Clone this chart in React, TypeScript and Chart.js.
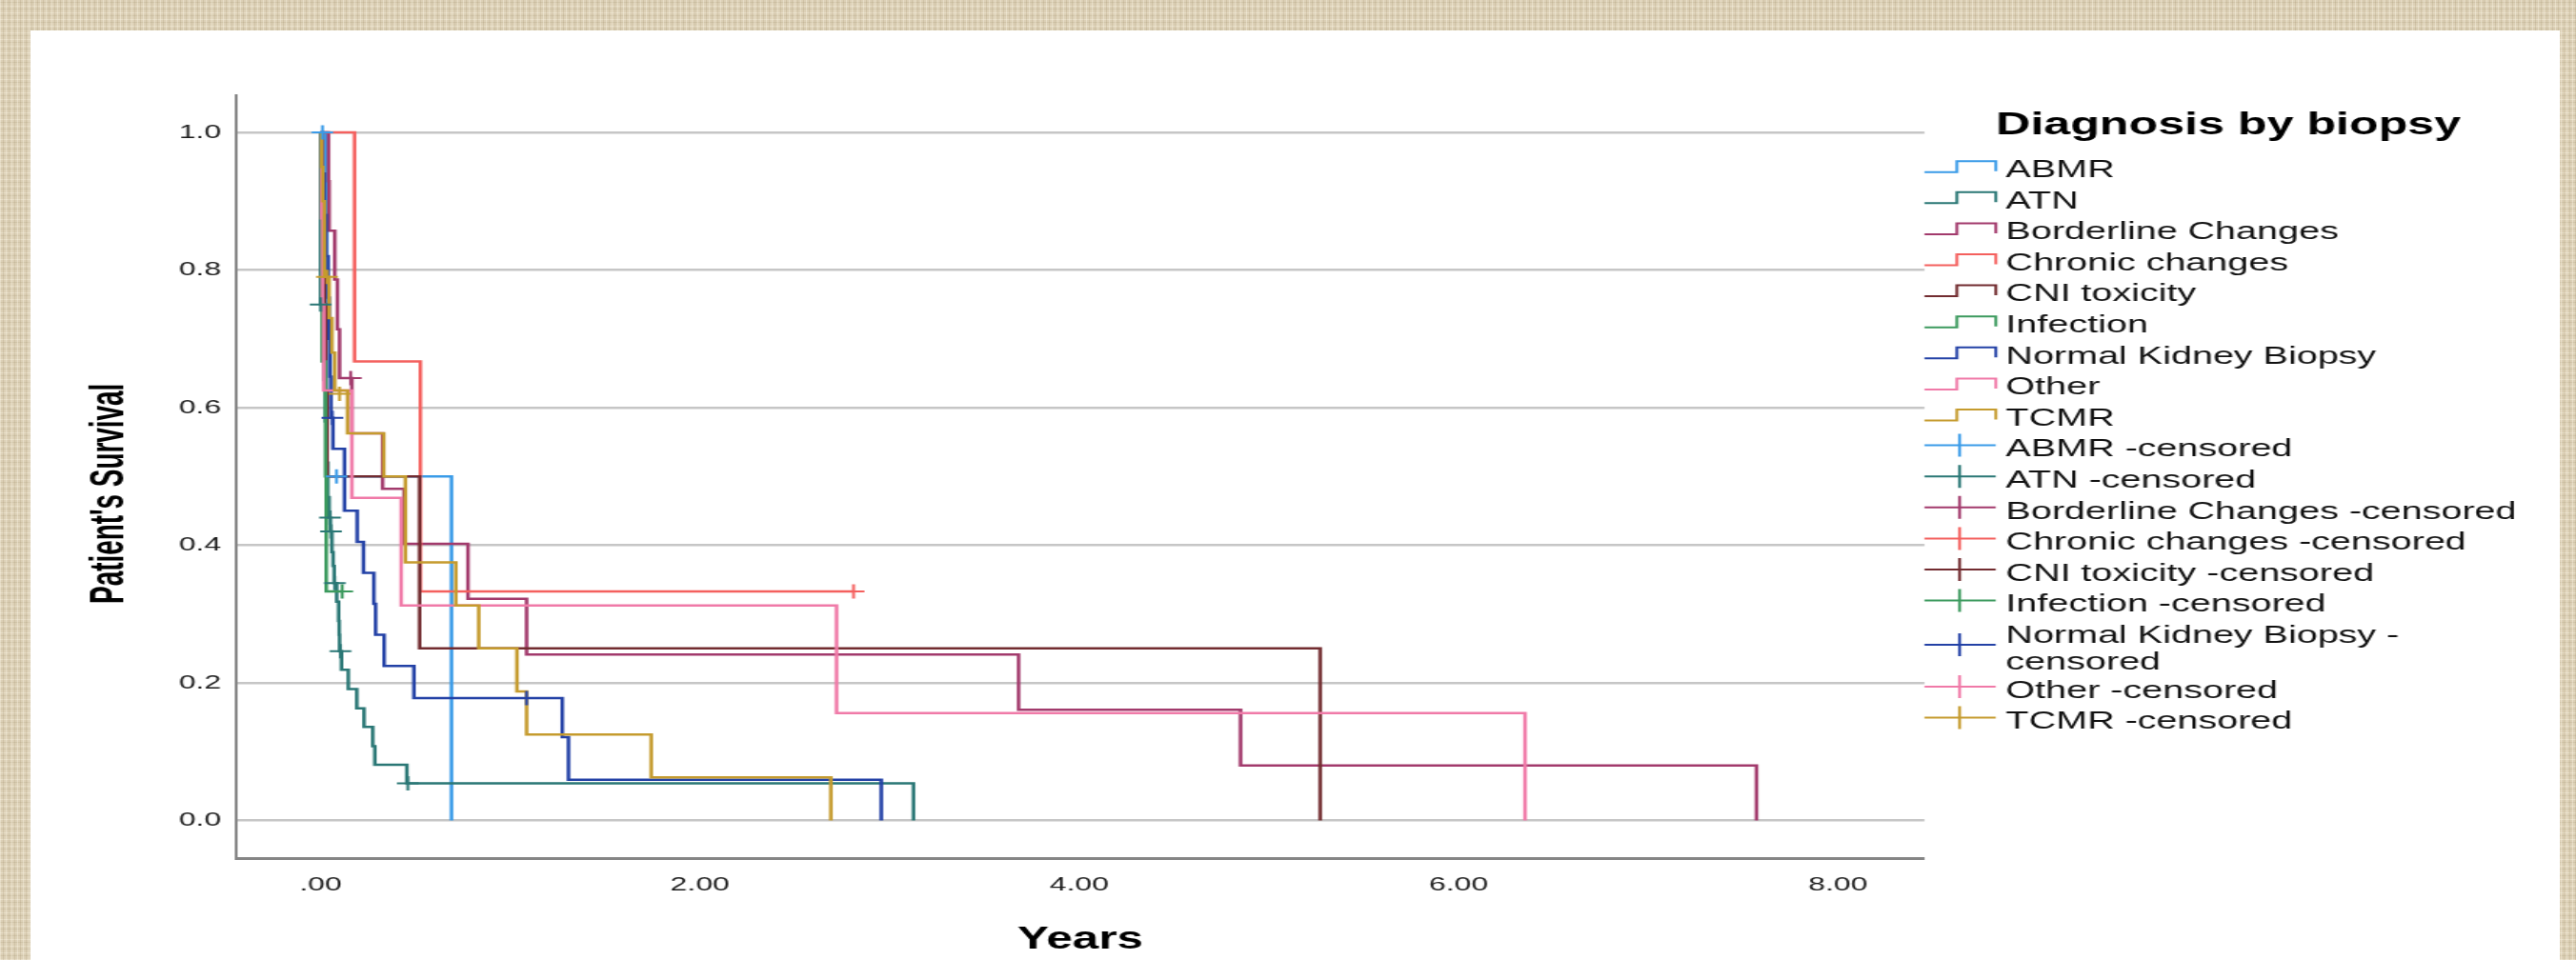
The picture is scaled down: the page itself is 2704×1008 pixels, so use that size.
import React, { useEffect, useRef } from 'react';
import { Chart, registerables } from 'chart.js';

Chart.register(...registerables);

// ---------------- data ----------------
const categories = [
  'ABMR',
  'ATN',
  'Borderline Changes',
  'Chronic changes',
  'CNI toxicity',
  'Infection',
  'Normal Kidney Biopsy',
  'Other',
  'TCMR',
];

const seriesColors = [
  '#3a9be8',
  '#2a7775',
  '#a23a6c',
  '#f4605e',
  '#722c30',
  '#3c9a5e',
  '#2341a6',
  '#f07aa8',
  '#c59b2e',
];

// Kaplan-Meier step curves (time in years, survival)
const abmrTimes = [0, 0.03, 0.69];
const abmrSurv = [1, 0.5, 0];
const abmrCensorTimes = [0.01, 0.084];
const abmrCensorSurv = [1.0, 0.5];

const atnTimes = [0, 0, 0.015, 0.02, 0.025, 0.03, 0.038, 0.045, 0.052, 0.06, 0.066, 0.072, 0.085, 0.095, 0.098, 0.1, 0.11, 0.146, 0.191, 0.229, 0.275, 0.286, 0.455, 3.126];
const atnSurv = [1, 0.75, 0.7, 0.64, 0.58, 0.52, 0.47, 0.44, 0.42, 0.39, 0.37, 0.345, 0.318, 0.29, 0.27, 0.246, 0.219, 0.191, 0.163, 0.136, 0.108, 0.081, 0.054, 0];
const atnCensorTimes = [0, 0.05, 0.055, 0.075, 0.105, 0.46];
const atnCensorSurv = [0.75, 0.44, 0.42, 0.345, 0.246, 0.054];

const borderlineTimes = [0, 0.042, 0.045, 0.075, 0.089, 0.1, 0.165, 0.327, 0.44, 0.777, 1.086, 3.68, 4.85, 7.57];
const borderlineSurv = [1, 0.929, 0.857, 0.786, 0.714, 0.643, 0.5625, 0.482, 0.402, 0.322, 0.241, 0.161, 0.08, 0];
const borderlineCensorTimes = [0.159];
const borderlineCensorSurv = [0.643];

const chronicTimes = [0, 0.179, 0.526, 2.81];
const chronicSurv = [1, 0.667, 0.333, 0.333];
const chronicCensorTimes = [2.81];
const chronicCensorSurv = [0.333];

const cniTimes = [0, 0.01, 0.02, 0.028, 0.034, 0.522, 5.27];
const cniSurv = [1, 0.875, 0.75, 0.625, 0.5, 0.25, 0];
const cniCensorTimes: number[] = [];
const cniCensorSurv: number[] = [];

const infectionTimes = [0, 0.004, 0.008, 0.026, 0.03, 0.114];
const infectionSurv = [1, 0.875, 0.667, 0.5, 0.333, 0.333];
const infectionCensorTimes = [0.114];
const infectionCensorSurv = [0.333];

const normalTimes = [0, 0.01, 0.02, 0.03, 0.04, 0.045, 0.05, 0.055, 0.065, 0.126, 0.193, 0.226, 0.281, 0.29, 0.335, 0.492, 1.274, 1.307, 2.956];
const normalSurv = [1, 0.94, 0.88, 0.82, 0.76, 0.7, 0.645, 0.585, 0.54, 0.45, 0.405, 0.36, 0.315, 0.27, 0.2245, 0.178, 0.121, 0.059, 0];
const normalCensorTimes = [0.062, 1.086];
const normalCensorSurv = [0.585, 0.178];

const otherTimes = [0, 0.005, 0.01, 0.017, 0.165, 0.425, 2.72, 6.35];
const otherSurv = [1, 0.875, 0.75, 0.625, 0.469, 0.3125, 0.156, 0];
const otherCensorTimes: number[] = [];
const otherCensorSurv: number[] = [];

const tcmrTimes = [0, 0.006, 0.012, 0.02, 0.045, 0.06, 0.075, 0.142, 0.333, 0.447, 0.713, 0.834, 1.035, 1.086, 1.743, 2.69];
const tcmrSurv = [1, 0.95, 0.9, 0.79, 0.73, 0.68, 0.625, 0.5625, 0.5, 0.375, 0.3125, 0.25, 0.1875, 0.125, 0.0625, 0];
const tcmrCensorTimes = [0.034, 0.1];
const tcmrCensorSurv = [0.79, 0.62];

const curveTimes = [abmrTimes, atnTimes, borderlineTimes, chronicTimes, cniTimes, infectionTimes, normalTimes, otherTimes, tcmrTimes];
const curveSurv = [abmrSurv, atnSurv, borderlineSurv, chronicSurv, cniSurv, infectionSurv, normalSurv, otherSurv, tcmrSurv];
const censorTimes = [abmrCensorTimes, atnCensorTimes, borderlineCensorTimes, chronicCensorTimes, cniCensorTimes, infectionCensorTimes, normalCensorTimes, otherCensorTimes, tcmrCensorTimes];
const censorSurv = [abmrCensorSurv, atnCensorSurv, borderlineCensorSurv, chronicCensorSurv, cniCensorSurv, infectionCensorSurv, normalCensorSurv, otherCensorSurv, tcmrCensorSurv];

const xTickValues = [0, 2, 4, 6, 8];
const yTickValues = [0, 0.2, 0.4, 0.6, 0.8, 1.0];

const xAxisTitle = 'Years';
const yAxisTitle = "Patient's Survival";
const legendTitle = 'Diagnosis by biopsy';
const censoredLegendLines = [
  ['ABMR -censored'],
  ['ATN -censored'],
  ['Borderline Changes -censored'],
  ['Chronic changes -censored'],
  ['CNI toxicity -censored'],
  ['Infection -censored'],
  ['Normal Kidney Biopsy -', 'censored'],
  ['Other -censored'],
  ['TCMR -censored'],
];

// ---------------- layout ----------------
const STRETCH = 1.52;
const CANVAS_W = 1747;
const CANVAS_H = 976;
const AREA_LEFT = 142.1;
const AREA_RIGHT = 1307.9;
const AREA_TOP = 68;
const AREA_BOTTOM = 869;
const X_MIN = -0.4445;
const X_MAX = 8.4555;
const Y_MIN = -0.0547;
const Y_MAX = 1.054;
const FONT = '"Liberation Sans", Arial, sans-serif';

const overlayPlugin = {
  id: 'kmOverlay',
  afterDraw(chart: any) {
    const ctx = chart.ctx as CanvasRenderingContext2D;
    // Y axis title (condensed bold)
    ctx.save();
    ctx.translate(54.6, 486.3);
    ctx.rotate(-Math.PI / 2);
    ctx.scale(0.82, 1);
    ctx.font = `bold 34px ${FONT}`;
    ctx.fillStyle = '#000';
    ctx.textAlign = 'center';
    ctx.textBaseline = 'middle';
    ctx.fillText(yAxisTitle, 0, 0);
    ctx.restore();

    // Legend
    ctx.save();
    ctx.font = `bold 33px ${FONT}`;
    ctx.fillStyle = '#000';
    ctx.textAlign = 'center';
    ctx.textBaseline = 'alphabetic';
    ctx.fillText(legendTitle, 1517.8, 108.7);

    const x0 = 1307.9;
    const x1 = 1357.2;
    const xStep = 1330.3;
    const xCross = 1332.2;
    const textX = 1364.1;
    const rowH = 32.6;
    let c = 144.7;
    ctx.font = `26px ${FONT}`;
    ctx.textAlign = 'left';
    ctx.lineWidth = 2;
    ctx.lineCap = 'butt';
    ctx.lineJoin = 'miter';
    categories.forEach((cat, i) => {
      ctx.strokeStyle = seriesColors[i];
      ctx.beginPath();
      ctx.moveTo(x0, c + 4);
      ctx.lineTo(xStep, c + 4);
      ctx.lineTo(xStep, c - 7.5);
      ctx.lineTo(x1, c - 7.5);
      ctx.lineTo(x1, c + 3);
      ctx.stroke();
      ctx.fillStyle = '#111';
      ctx.fillText(cat, textX, c + 9.3);
      c += rowH;
    });
    censoredLegendLines.forEach((lines, i) => {
      const lineGap = 27.7;
      const mid = c + ((lines.length - 1) * lineGap) / 2;
      const cy = mid - 2.5;
      ctx.strokeStyle = seriesColors[i];
      ctx.beginPath();
      ctx.moveTo(x0, cy);
      ctx.lineTo(x1, cy);
      ctx.moveTo(xCross, cy - 12);
      ctx.lineTo(xCross, cy + 12);
      ctx.stroke();
      ctx.fillStyle = '#111';
      lines.forEach((t, k) => {
        ctx.fillText(t, textX, c + 9.3 + k * lineGap);
      });
      c += rowH + (lines.length - 1) * 25.2;
    });
    ctx.restore();
  },
};

export default function App() {
  const canvasRef = useRef<HTMLCanvasElement | null>(null);

  useEffect(() => {
    const canvas = canvasRef.current;
    if (!canvas) return;

    const lineSets = categories.map((cat, i) => ({
      type: 'line' as const,
      label: cat,
      data: curveTimes[i].map((t, k) => ({ x: t, y: curveSurv[i][k] })),
      borderColor: seriesColors[i],
      backgroundColor: seriesColors[i],
      borderWidth: 2.5,
      stepped: 'before' as const,
      pointRadius: 0,
      fill: false,
      order: 100 - i,
    }));
    const censorSets = categories.map((cat, i) => ({
      type: 'line' as const,
      label: `${cat} -censored`,
      data: censorTimes[i].map((t, k) => ({ x: t, y: censorSurv[i][k] })),
      borderColor: seriesColors[i],
      backgroundColor: seriesColors[i],
      showLine: false,
      pointStyle: 'cross' as const,
      pointRadius: 7.5,
      pointBorderWidth: 2,
      pointBorderColor: seriesColors[i],
      order: 50 - i,
    }));

    const tickFont = { family: FONT, size: 21 };

    const chart = new Chart(canvas, {
      type: 'line',
      data: { datasets: [...lineSets, ...censorSets] as any },
      options: {
        animation: false,
        responsive: true,
        maintainAspectRatio: false,
        events: [],
        layout: {
          padding: { top: AREA_TOP, right: CANVAS_W - AREA_RIGHT, bottom: 0, left: 0 },
        },
        plugins: {
          legend: { display: false },
          tooltip: { enabled: false },
          title: { display: false },
        },
        scales: {
          x: {
            type: 'linear',
            min: X_MIN,
            max: X_MAX,
            afterFit: (s: any) => {
              s.height = CANVAS_H - AREA_BOTTOM;
            },
            afterBuildTicks: (s: any) => {
              s.ticks = xTickValues.map((v) => ({ value: v }));
            },
            grid: { display: false, drawTicks: false, tickLength: 0 },
            border: { display: true, color: '#858585', width: 3 },
            ticks: {
              padding: 15.5,
              color: '#1a1a1a',
              font: tickFont,
              maxRotation: 0,
              autoSkip: false,
              callback: (v: any) => (Number(v) === 0 ? '.00' : Number(v).toFixed(2)),
            },
            title: {
              display: true,
              text: xAxisTitle,
              color: '#000',
              font: { family: FONT, size: 32.5, weight: 'bold' },
              padding: { top: 0, bottom: 1.5 },
            },
          },
          y: {
            type: 'linear',
            min: Y_MIN,
            max: Y_MAX,
            afterFit: (s: any) => {
              s.width = AREA_LEFT;
            },
            afterBuildTicks: (s: any) => {
              s.ticks = yTickValues.map((v) => ({ value: v }));
            },
            grid: { color: '#c6c6c6', lineWidth: 2.5, drawTicks: false, tickLength: 0 },
            border: { display: true, color: '#858585', width: 2 },
            ticks: {
              padding: 10.5,
              color: '#1a1a1a',
              font: tickFont,
              autoSkip: false,
              callback: (v: any) => Number(v).toFixed(1),
            },
            title: { display: false },
          },
        },
      } as any,
      plugins: [overlayPlugin],
    });

    return () => {
      chart.destroy();
    };
  }, []);

  const beige =
    'repeating-linear-gradient(90deg, rgba(255,250,235,0.35) 0px, rgba(255,250,235,0.35) 1px, transparent 1px, transparent 3px, rgba(130,110,70,0.14) 3px, rgba(130,110,70,0.14) 4px, transparent 4px, transparent 6px),' +
    'repeating-linear-gradient(0deg, rgba(255,250,235,0.3) 0px, rgba(255,250,235,0.3) 1px, transparent 1px, transparent 4px, rgba(130,110,70,0.12) 4px, rgba(130,110,70,0.12) 5px, transparent 5px, transparent 7px),' +
    '#dcd0b6';

  return (
    <div
      style={{
        position: 'fixed',
        left: 0,
        top: 0,
        width: 2704,
        height: 1008,
        background: beige,
        overflow: 'hidden',
      }}
    >
      <div
        style={{
          position: 'absolute',
          left: 32,
          top: 32,
          width: 2655,
          height: 976,
          background: '#ffffff',
          overflow: 'hidden',
        }}
      >
        <div
          style={{
            position: 'absolute',
            left: 0,
            top: 0,
            width: CANVAS_W,
            height: CANVAS_H,
            transform: `scaleX(${STRETCH})`,
            transformOrigin: '0 0',
          }}
        >
          <canvas ref={canvasRef} style={{ display: 'block' }} />
        </div>
      </div>
    </div>
  );
}
